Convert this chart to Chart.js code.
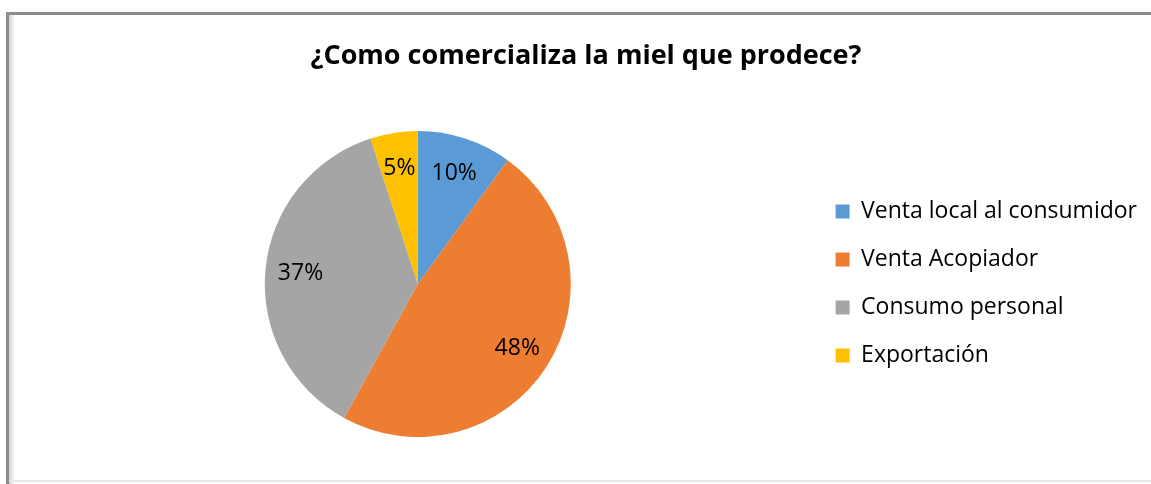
<!DOCTYPE html>
<html>
<head>
<meta charset="utf-8">
<script src="https://cdn.jsdelivr.net/npm/chart.js@4/dist/chart.umd.min.js"></script>
<style>
  html, body { margin: 0; background: #fff; overflow: hidden; }
  canvas { display: block; }
</style>
</head>
<body>
<canvas id="myChart" width="1151" height="484"></canvas>
<script>
const titulo = '¿Como comercializa la miel que prodece?';
const categorias = ['Venta local al consumidor', 'Venta Acopiador', 'Consumo personal', 'Exportación'];
const valores = [10, 48, 37, 5];
const colores = ['#5B9BD5', '#ED7D31', '#A5A5A5', '#FFC000'];

const fuente = '"Open Sans", "Liberation Sans", sans-serif';

// marco gris del gráfico (borde superior e izquierdo con sombra)
const marco = {
  id: 'marco',
  beforeDraw(chart) {
    const c = chart.ctx;
    const w = chart.width, h = chart.height;
    c.save();
    c.fillStyle = '#fff';
    c.fillRect(0, 0, w, h);
    const g = c.createLinearGradient(9, 0, 15, 0);
    g.addColorStop(0, '#cfcfcf');
    g.addColorStop(1, '#ffffff');
    c.fillStyle = g;
    c.fillRect(9, 15, 6, h - 15);
    c.fillStyle = '#e8e8e8';
    c.fillRect(9, 480, w - 9, 2);
    c.fillStyle = '#8c8c8c';
    c.fillRect(6, 12, w - 6, 3);
    c.fillRect(6, 12, 3, h - 12);
    c.restore();
  }
};

// etiquetas de porcentaje dentro de cada porción
const etiquetasPie = {
  id: 'etiquetasPie',
  afterDatasetsDraw(chart) {
    const ctx = chart.ctx;
    const meta = chart.getDatasetMeta(0);
    const total = valores.reduce((a, b) => a + b, 0);
    ctx.save();
    ctx.font = '23px ' + fuente;
    ctx.fillStyle = '#000';
    ctx.textAlign = 'center';
    ctx.textBaseline = 'middle';
    meta.data.forEach((arc, i) => {
      const p = arc.getProps(['x', 'y', 'startAngle', 'endAngle', 'outerRadius'], true);
      const ang = (p.startAngle + p.endAngle) / 2;
      const r = p.outerRadius * 0.77;
      const x = p.x + Math.cos(ang) * r;
      const y = p.y + Math.sin(ang) * r + 1;
      ctx.fillText(Math.round(valores[i] / total * 100) + '%', x, y);
    });
    ctx.restore();
  }
};

const ctx = document.getElementById('myChart');
new Chart(ctx, {
  type: 'pie',
  data: {
    labels: categorias,
    datasets: [{
      data: valores,
      backgroundColor: colores,
      borderWidth: 0
    }]
  },
  options: {
    responsive: false,
    animation: false,
    layout: { padding: { left: 25, right: 4, top: 0, bottom: 47 } },
    plugins: {
      title: {
        display: true,
        text: titulo,
        color: '#000',
        font: { family: fuente, size: 27, weight: 'bold', lineHeight: 1.2 },
        padding: { top: 40, bottom: 58.6 }
      },
      legend: {
        position: 'right',
        title: { display: true, text: ' ', font: { size: 20, lineHeight: 1.2 }, padding: { top: 106, bottom: 0 } },
        labels: {
          color: '#000',
          font: { family: fuente, size: 23 },
          boxWidth: 14,
          boxHeight: 14,
          padding: 25
        }
      },
      tooltip: { enabled: false }
    }
  },
  plugins: [marco, etiquetasPie]
});
</script>
</body>
</html>
